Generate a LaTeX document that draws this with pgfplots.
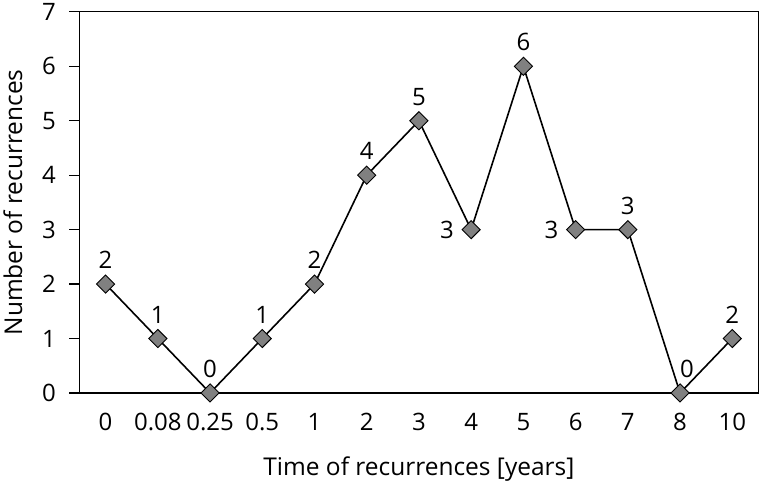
\documentclass[border=0pt]{standalone}
\usepackage{fontspec}
\setmainfont{Open Sans}
\usepackage{pgfplots}
\pgfplotsset{compat=1.18}

\begin{document}
\begin{tikzpicture}
\begin{axis}[
  scale only axis,
  width=677bp, height=380bp,
  xmin=-0.5, xmax=12.5,
  ymin=0, ymax=7,
  xtick={0,...,12},
  xticklabels={0,0.08,0.25,0.5,1,2,3,4,5,6,7,8,10},
  ytick={0,1,...,7},
  x tick style={draw=none},
  y tick style={black, line width=1.2bp},
  tick align=outside,
  major tick length=10bp,
  ytick pos=left,
  axis line style={line width=1.2bp},
  tick label style={font=\fontsize{24}{28}\selectfont},
  xticklabel style={yshift=-7bp},
  yticklabel style={xshift=-10bp},
  label style={font=\fontsize{24.5}{28}\selectfont},
  xlabel={Time of recurrences [years]},
  ylabel={Number of recurrences},
  xlabel shift=19bp,
  ylabel shift=13bp,
  /pgf/number format/assume math mode=true,
  clip=false,
  nodes near coords,
  point meta=explicit symbolic,
  every node near coord/.append style={font=\fontsize{24}{28}\selectfont, inner sep=0pt},
]
% line and markers
\addplot[
  black, line width=1.6bp,
  mark=square*, mark size=6.4bp,
  mark options={fill=gray, draw=black, line width=0.9bp, rotate=45},
  nodes near coords={},
] coordinates {
  (0,2) (1,1) (2,0) (3,1) (4,2) (5,4) (6,5) (7,3) (8,6) (9,3) (10,3) (11,0) (12,1)
};
% labels above
\addplot[draw=none, mark=none,
  every node near coord/.append style={anchor=south, yshift=15bp}]
coordinates {
  (0,2) [2] (1,1) [1] (2,0) [0] (3,1) [1] (4,2) [2] (5,4) [4] (6,5) [5]
  (8,6) [6] (10,3) [3] (12,1) [2]
};
% label above, shifted right
\addplot[draw=none, mark=none,
  every node near coord/.append style={anchor=south, yshift=15bp, xshift=7bp}]
coordinates {
  (11,0) [0]
};
% labels to the left
\addplot[draw=none, mark=none,
  every node near coord/.append style={anchor=east, xshift=-17bp}]
coordinates {
  (7,3) [3] (9,3) [3]
};
\end{axis}
\end{tikzpicture}
\end{document}
